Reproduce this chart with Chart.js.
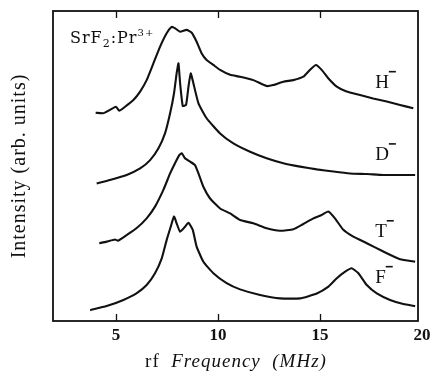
<!DOCTYPE html>
<html>
<head>
<meta charset="utf-8">
<script src="https://cdn.jsdelivr.net/npm/chart.js@4"></script>
<style>
  html, body { margin: 0; padding: 0; background: #fff; }
  #wrap { width: 432px; height: 372px; }
</style>
</head>
<body>
<div id="wrap"><canvas id="chart" width="432" height="372"></canvas></div>
<script>
    // rf frequency (MHz) and intensity (arb. units, curves offset vertically)
    const hFreq = [4.0, 4.36, 4.7, 5.0, 5.16, 5.44, 5.85, 6.18, 6.5, 6.83, 7.16, 7.48, 7.73, 7.9, 8.14, 8.46, 8.71, 8.95, 9.2, 9.44, 9.77, 10.1, 10.59, 11.08, 11.73, 12.38, 12.7, 13.2, 13.69, 14.18, 14.5, 14.8, 15.08, 15.4, 15.82, 16.3, 16.96, 17.6, 18.27, 18.92, 19.57];
    const hInt  = [67.2, 67.0, 68.1, 69.1, 67.8, 69.1, 71.3, 74.0, 77.7, 83.1, 88.5, 92.8, 94.9, 94.4, 93.3, 93.9, 93.0, 90.1, 86.3, 84.2, 82.6, 81.0, 79.4, 78.8, 77.7, 75.8, 76.1, 77.2, 77.7, 78.8, 81.0, 82.6, 81.0, 78.3, 75.6, 74.0, 72.9, 71.8, 70.8, 69.7, 68.6];

    const dFreq = [4.05, 4.7, 5.52, 6.18, 6.67, 7.08, 7.4, 7.65, 7.84, 7.97, 8.06, 8.14, 8.27, 8.43, 8.55, 8.66, 8.79, 9.04, 9.44, 10.1, 10.75, 11.57, 12.38, 13.2, 14.02, 14.84, 15.65, 16.47, 17.29, 18.1, 18.92, 19.66];
    const dInt  = [44.4, 45.5, 47.1, 49.2, 51.9, 55.7, 60.5, 67.0, 73.4, 79.9, 83.1, 76.7, 69.4, 69.7, 75.6, 79.9, 76.7, 70.2, 65.4, 60.5, 57.3, 54.6, 52.5, 50.9, 49.8, 48.9, 48.2, 47.6, 47.4, 47.1, 47.1, 47.1];

    const tFreq = [4.18, 4.54, 4.95, 5.1, 5.52, 6.0, 6.5, 6.91, 7.32, 7.65, 7.89, 8.1, 8.22, 8.38, 8.63, 8.87, 9.04, 9.28, 9.6, 10.1, 10.59, 11.08, 11.73, 12.38, 13.04, 13.69, 14.18, 14.67, 15.08, 15.4, 15.73, 16.14, 16.63, 17.29, 18.1, 18.92, 19.66];
    const tInt  = [25.1, 25.6, 26.3, 25.9, 27.7, 29.9, 33.1, 36.9, 42.3, 47.6, 50.9, 53.5, 54.1, 52.5, 51.4, 50.3, 47.6, 43.3, 39.6, 36.3, 34.7, 32.6, 31.5, 29.9, 29.1, 29.6, 31.3, 33.1, 34.2, 35.3, 33.1, 29.4, 27.2, 25.1, 22.4, 19.9, 19.1];

    const fFreq = [3.73, 4.54, 5.36, 6.0, 6.5, 6.91, 7.24, 7.48, 7.68, 7.84, 7.97, 8.14, 8.38, 8.55, 8.76, 8.95, 9.28, 9.77, 10.42, 11.08, 12.06, 13.04, 14.02, 14.84, 15.41, 15.82, 16.23, 16.55, 16.88, 17.29, 17.78, 18.43, 19.08, 19.66];
    const fInt  = [3.5, 4.8, 6.8, 8.9, 11.6, 15.4, 20.2, 26.1, 30.4, 33.7, 31.5, 28.8, 30.4, 31.7, 29.4, 24.0, 19.1, 15.4, 12.2, 10.2, 8.4, 7.3, 7.3, 8.9, 11.1, 13.8, 15.9, 17.0, 15.4, 11.6, 8.9, 6.8, 5.5, 4.8];

    const xTicks = [5, 10, 15, 20];
    const seriesNames = ['H', 'D', 'T', 'F'];
    // where each series name sits (MHz, intensity at text baseline)
    const nameAt = [[17.7, 75.2], [17.7, 51.9], [17.7, 27.1], [17.7, 12.3]];

    const toXY = (xs, ys) => xs.map((x, i) => ({ x, y: ys[i] }));

    const ink = '#111';
    const serif = '"Liberation Serif", "DejaVu Serif", serif';
    const wide = '"DejaVu Serif", serif';

    const decor = {
        id: 'decor',
        afterDraw(chart) {
            const { ctx, chartArea: a, scales: { x, y } } = chart;
            ctx.save();
            ctx.strokeStyle = ink;
            ctx.lineWidth = 1.8;
            ctx.strokeRect(a.left, a.top, a.right - a.left, a.bottom - a.top);

            // inward ticks, top and bottom
            ctx.lineWidth = 1.3;
            xTicks.slice(0, 3).forEach(v => {
                const px = Math.round(x.getPixelForValue(v)) + 0.5;
                ctx.beginPath();
                ctx.moveTo(px, a.bottom); ctx.lineTo(px, a.bottom - 7);
                ctx.moveTo(px, a.top); ctx.lineTo(px, a.top + 7);
                ctx.stroke();
            });

            ctx.fillStyle = ink;
            ctx.textBaseline = 'alphabetic';

            // series names with superscript minus
            seriesNames.forEach((n, i) => {
                const px = x.getPixelForValue(nameAt[i][0]);
                const py = y.getPixelForValue(nameAt[i][1]);
                ctx.font = '19px ' + serif;
                ctx.textAlign = 'left';
                ctx.fillText(n, px, py);
                const w = ctx.measureText(n).width;
                ctx.fillRect(px + w, py - 17, 7, 1.6);
            });

            // SrF2:Pr3+
            ctx.letterSpacing = '1px';
            let cx = a.left + 17, cy = a.top + 32;
            const parts = [['SrF', 0, 16], ['2', 4, 11], [':Pr', 0, 16], ['3+', -7, 10]];
            parts.forEach(([t, dy, sz]) => {
                ctx.font = sz + 'px ' + wide;
                ctx.fillText(t, cx, cy + dy);
                cx += ctx.measureText(t).width;
            });

            // axis titles
            ctx.font = '19px ' + serif;
            const t1 = 'rf  ', t2 = 'Frequency  (MHz)';
            const w1 = ctx.measureText(t1).width;
            ctx.font = 'italic 19px ' + serif;
            const w2 = ctx.measureText(t2).width;
            const sx = 236 - (w1 + w2) / 2;
            ctx.textAlign = 'left';
            ctx.font = '19px ' + serif;
            ctx.fillText(t1, sx, 367);
            ctx.font = 'italic 19px ' + serif;
            ctx.fillText(t2, sx + w1, 367);

            ctx.translate(25, (a.top + a.bottom) / 2);
            ctx.rotate(-Math.PI / 2);
            ctx.textAlign = 'center';
            ctx.font = '20px ' + serif;
            ctx.fillText('Intensity (arb. units)', 0, 0);
            ctx.restore();
        }
    };

    const lineStyle = {
        borderColor: ink,
        borderWidth: 2.1,
        pointRadius: 0,
        tension: 0.15,
        fill: false
    };

    new Chart(document.getElementById('chart').getContext('2d'), {
        type: 'line',
        data: {
            datasets: [
                { label: 'H', data: toXY(hFreq, hInt), ...lineStyle },
                { label: 'D', data: toXY(dFreq, dInt), ...lineStyle },
                { label: 'T', data: toXY(tFreq, tInt), ...lineStyle },
                { label: 'F', data: toXY(fFreq, fInt), ...lineStyle }
            ]
        },
        options: {
            responsive: false,
            animation: false,
            events: [],
            layout: { padding: { top: 11, right: 14, left: 0, bottom: 0 } },
            plugins: { legend: { display: false }, tooltip: { enabled: false } },
            scales: {
                x: {
                    type: 'linear',
                    min: 1.91,
                    max: 19.8,
                    afterBuildTicks: s => { s.ticks = xTicks.map(v => ({ value: v })); },
                    afterFit: s => { s.height = 51; s.paddingLeft = 0; s.paddingRight = 0; },
                    grid: { display: false, drawTicks: false },
                    border: { display: false },
                    ticks: { color: ink, padding: 4, font: { family: serif, size: 17, weight: 'bold' }, maxRotation: 0 }
                },
                y: {
                    min: 0,
                    max: 100,
                    afterFit: s => { s.width = 53; },
                    grid: { display: false },
                    border: { display: false },
                    ticks: { display: false }
                }
            }
        },
        plugins: [decor]
    });
</script>
</body>
</html>
